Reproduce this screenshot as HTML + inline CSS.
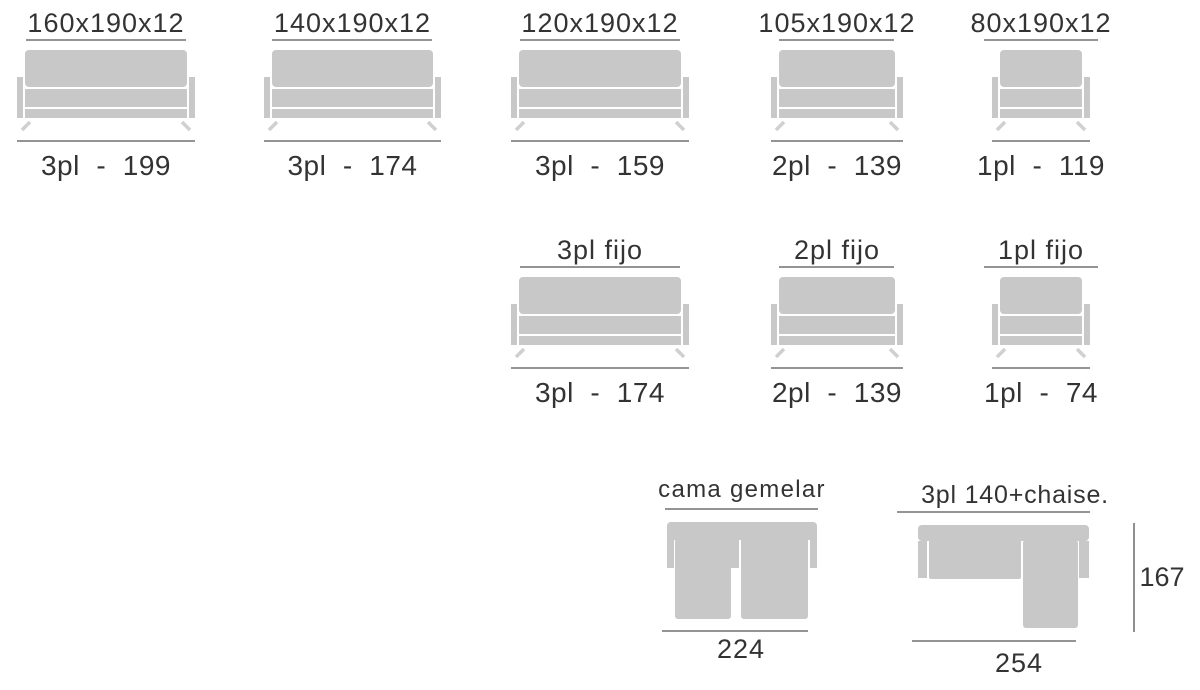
<!DOCTYPE html>
<html><head><meta charset="utf-8"><style>
html,body{margin:0;padding:0;background:#fff;}
svg text{font-family:"Liberation Sans",sans-serif;fill:#333;text-anchor:middle;}
</style></head><body>
<svg id="s" width="1200" height="685" viewBox="0 0 1200 685" xmlns="http://www.w3.org/2000/svg">
<g fill="#c8c8c8" stroke="none">
<rect x="667" y="522" width="150" height="18" rx="4"/>
<rect x="667" y="537" width="7" height="31"/>
<rect x="810" y="537" width="7" height="31"/>
<rect x="731" y="537" width="8" height="31"/>
<rect x="675" y="535" width="56" height="84" rx="3"/>
<rect x="741" y="535" width="67" height="84" rx="3"/>
<rect x="918" y="525" width="171" height="16" rx="4"/>
<rect x="918" y="541" width="9" height="37"/>
<rect x="1079" y="541" width="10" height="37"/>
<rect x="929" y="540" width="92" height="39" rx="2"/>
<rect x="1023" y="540" width="55" height="88" rx="3"/>
</g>
<g stroke="#555" stroke-width="1.3">
<line x1="665" y1="509" x2="818" y2="509"/>
<line x1="662" y1="631" x2="808" y2="631"/>
<line x1="897" y1="512" x2="1090" y2="512"/>
<line x1="912" y1="641" x2="1076" y2="641"/>
<line x1="1134" y1="523" x2="1134" y2="632"/>
</g>
<text x="742" y="497" font-size="24" letter-spacing="1.3">cama gemelar</text>
<text x="741" y="658" font-size="27" letter-spacing="1">224</text>
<text x="1015" y="503" font-size="25" letter-spacing="0.8">3pl 140+chaise.</text>
<text x="1019" y="672" font-size="27" letter-spacing="1">254</text>
<text x="1162" y="586" font-size="27">167</text>
</svg>
<script>
var s=document.getElementById('s'),h='';
function sofa(a,b,T,la,lb,top,bot,ty,by){
 var f='fill="#c8c8c8"';
 h+='<rect x="'+a+'" y="'+(T+27)+'" width="6" height="41" '+f+'/>';
 h+='<rect x="'+(b-6)+'" y="'+(T+27)+'" width="6" height="41" '+f+'/>';
 h+='<rect x="'+(a+8)+'" y="'+T+'" width="'+(b-a-16)+'" height="37" rx="4" '+f+'/>';
 h+='<rect x="'+(a+8)+'" y="'+(T+39)+'" width="'+(b-a-16)+'" height="18" '+f+'/>';
 h+='<rect x="'+(a+8)+'" y="'+(T+59)+'" width="'+(b-a-16)+'" height="9" '+f+'/>';
 h+='<line x1="'+(a+13)+'" y1="'+(T+72)+'" x2="'+(a+5)+'" y2="'+(T+80)+'" stroke="#d0d0d0" stroke-width="3.5"/>';
 h+='<line x1="'+(b-13)+'" y1="'+(T+72)+'" x2="'+(b-5)+'" y2="'+(T+80)+'" stroke="#d0d0d0" stroke-width="3.5"/>';
 h+='<line x1="'+la+'" y1="'+(T-10)+'" x2="'+lb+'" y2="'+(T-10)+'" stroke="#555" stroke-width="1.3"/>';
 h+='<line x1="'+a+'" y1="'+(T+91)+'" x2="'+b+'" y2="'+(T+91)+'" stroke="#555" stroke-width="1.3"/>';
 var c=(a+b)/2;
 h+='<text x="'+c+'" y="'+ty+'" font-size="27" letter-spacing="1">'+top+'</text>';
 h+='<text x="'+c+'" y="'+by+'" font-size="28" letter-spacing="0.5" style="white-space:pre" xml:space="preserve">'+bot+'</text>';
}
sofa(17,195,50,26,186,'160x190x12','3pl  -  199',32,175);
sofa(264,441,50,272,432,'140x190x12','3pl  -  174',32,175);
sofa(511,689,50,520,680,'120x190x12','3pl  -  159',32,175);
sofa(771,903,50,779,894,'105x190x12','2pl  -  139',32,175);
sofa(992,1090,50,984,1098,'80x190x12','1pl  -  119',32,175);
sofa(511,689,277,520,680,'3pl fijo','3pl  -  174',259,402);
sofa(771,903,277,779,894,'2pl fijo','2pl  -  139',259,402);
sofa(992,1090,277,984,1098,'1pl fijo','1pl  -  74',259,402);
s.insertAdjacentHTML('beforeend',h);
</script>
</body></html>
